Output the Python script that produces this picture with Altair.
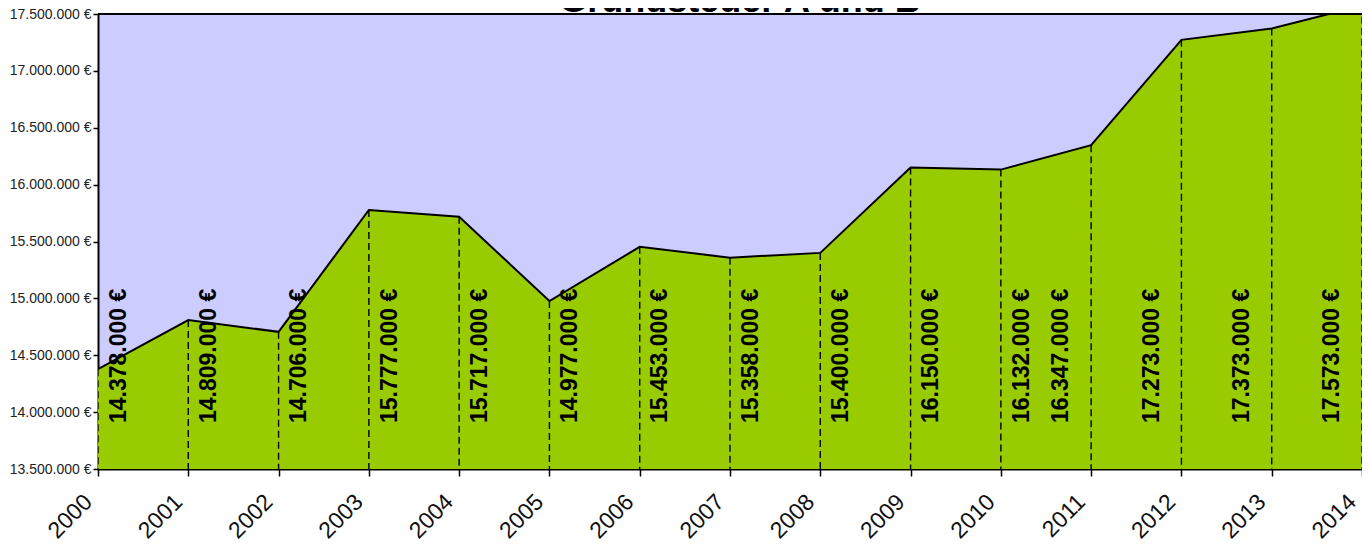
import altair as alt
import pandas as pd

years = [2000, 2001, 2002, 2003, 2004, 2005, 2006, 2007, 2008, 2009, 2010, 2011, 2012, 2013, 2014]
values = [14378000, 14809000, 14706000, 15777000, 15717000, 14977000, 15453000,
          15358000, 15400000, 16150000, 16132000, 16347000, 17273000, 17373000, 17573000]
y_ticks = [13500000, 14000000, 14500000, 15000000, 15500000, 16000000, 16500000, 17000000, 17500000]
title_text = "Grundsteuer A und B"

labels = [f"{v:,}".replace(",", ".") + " €" for v in values]
df = pd.DataFrame({"year": years, "value": values, "label": labels})

W, H = 1264, 455
FONT = "Liberation Sans"
fmt = "replace(format(datum.value, ',.0f'), /,/g, '.') + ' €'"

x = alt.X("year:Q",
          scale=alt.Scale(domain=[2000, 2014], nice=False, zero=False),
          axis=alt.Axis(values=years, format="d", labelAngle=-45, labelAlign="right",
                        labelBaseline="middle", labelPadding=22, labelOffset=-10,
                        tickSize=7, tickWidth=1.5,
                        labelFontSize=23, labelColor="#111111", labelFont=FONT,
                        labelFlush=False, labelOverlap=False, labelBound=False,
                        domainColor="black", domainWidth=2, tickColor="black", grid=False),
          title=None)
y = alt.Y("value:Q",
          scale=alt.Scale(domain=[13500000, 17500000], nice=False, zero=False),
          axis=alt.Axis(values=y_ticks, labelExpr=fmt, labelFontSize=14, labelFont=FONT,
                        labelColor="#222222", labelPadding=2, tickSize=5, tickWidth=1.5,
                        tickColor="black", domainColor="black", domainWidth=2, grid=False),
          title=None)

base = alt.Chart(df)

area = base.mark_area(color="#99CC00", opacity=1, clip=True).encode(x=x, y=y)
line = base.mark_line(color="black", strokeWidth=2, clip=True).encode(x="year:Q", y="value:Q")
drops = base.mark_rule(color="black", strokeDash=[7, 4], strokeWidth=1.4, clip=True).encode(
    x="year:Q", y="value:Q", y2=alt.datum(13500000))
text = base.transform_calculate(
    xl="datum.year <= 2010 ? datum.year + 0.23 : datum.year - 0.33"
).mark_text(angle=270, align="left", baseline="middle", font=FONT, fontSize=23,
            fontWeight="bold", color="black").encode(
    x="xl:Q", y=alt.value(409), text="label:N")

one = pd.DataFrame({"t": [title_text]})
top = alt.Chart(one).mark_rule(color="black", strokeWidth=2).encode(
    x=alt.value(0), x2=alt.value(W), y=alt.value(0))
title = alt.Chart(one).mark_text(font=FONT, fontSize=36, fontWeight="bold", color="black",
                                 align="center", baseline="alphabetic").encode(
    x=alt.value(642), y=alt.value(-2), text="t:N")

chart = alt.layer(area, drops, line, text, top, title).properties(
    width=W, height=H,
    autosize=alt.AutoSizeParams(type="none"),
    padding={"left": 90, "top": 6, "right": 0, "bottom": 73},
).configure_view(fill="#CCCCFF", strokeWidth=0)

chart.save("out.html", embed_options={"renderer": "svg", "actions": False})
